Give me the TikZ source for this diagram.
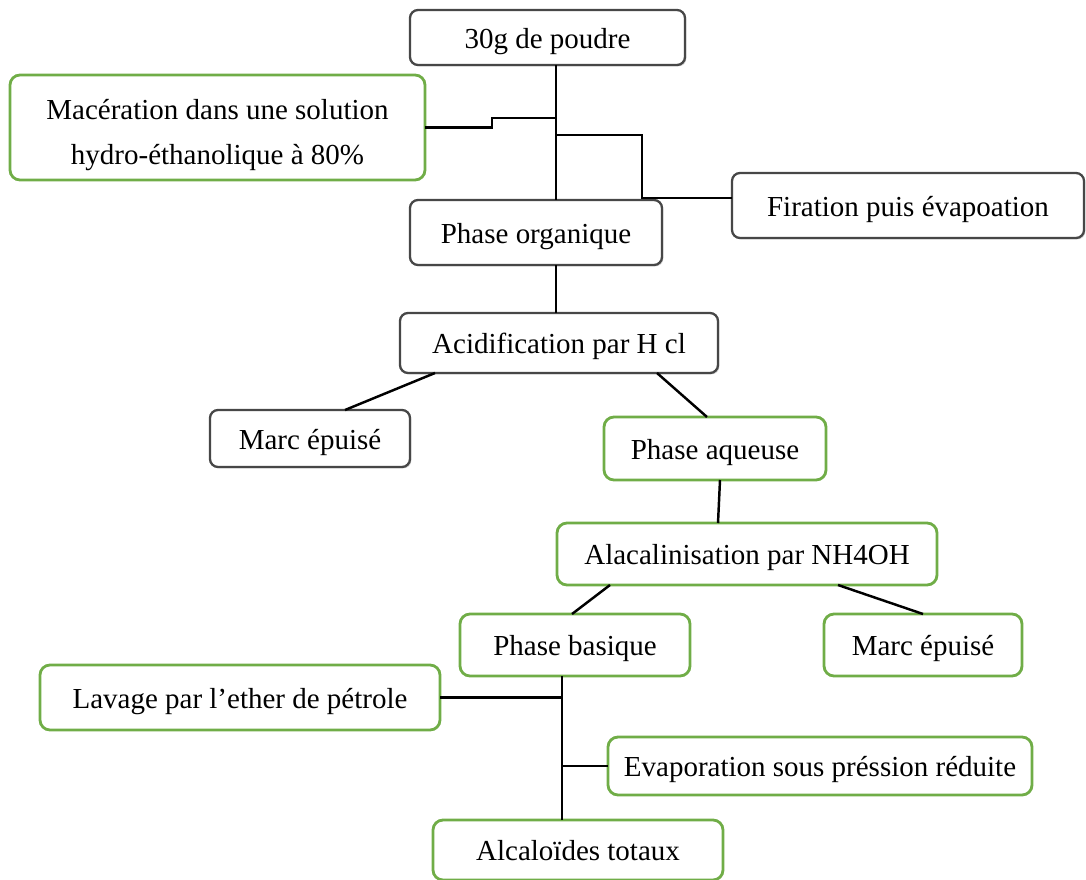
\documentclass[tikz,border=0pt]{standalone}
\usepackage{fontspec}
\setmainfont{Liberation Serif}
\usepackage{tikz}
\usetikzlibrary{shadows}
\definecolor{boxgreen}{RGB}{112,173,71}

\begin{document}
\begin{tikzpicture}[every node/.style={inner sep=0pt, outer sep=0pt, align=center, font=\fontsize{16.5}{25.6}\selectfont},
  oneline/.style={text height=15pt, text depth=2.6pt},
  greenbox/.style={draw=boxgreen, line width=1.6pt, rounded corners=0.2cm, fill=white},
  graybox/.style={draw=black!72, line width=1.3pt, rounded corners=0.16cm, fill=white, drop shadow={shadow xshift=0.8pt, shadow yshift=-0.8pt, opacity=0.35}},
  link/.style={line width=1.4pt, black}]
\useasboundingbox (0,0) rectangle (21.72,-17.58);

\node[graybox, oneline, minimum width=5.5cm, minimum height=1.1cm] (poudre) at (10.95,-0.75) {30g de poudre};
\node[greenbox, text height=45pt, text depth=3pt, minimum width=8.3cm, minimum height=2.1cm] (maceration) at (4.35,-2.55) {Macération dans une solution\\hydro-éthanolique à 80\%};
\node[graybox, oneline, minimum width=5.04cm, minimum height=1.3cm] (organique) at (10.72,-4.65) {Phase organique};
\node[graybox, oneline, minimum width=7.04cm, minimum height=1.3cm] (firation) at (18.16,-4.11) {Firation puis évapoation};
\node[graybox, oneline, minimum width=6.36cm, minimum height=1.2cm] (acide) at (11.18,-6.86) {Acidification par H cl};
\node[graybox, oneline, minimum width=4.0cm, minimum height=1.14cm] (marcA) at (6.2,-8.77) {Marc épuisé};
\node[greenbox, oneline, minimum width=4.44cm, minimum height=1.26cm] (aqueuse) at (14.3,-8.97) {Phase aqueuse};
\node[greenbox, oneline, minimum width=7.6cm, minimum height=1.24cm] (alcal) at (14.94,-11.08) {Alacalinisation par NH4OH};
\node[greenbox, oneline, minimum width=4.6cm, minimum height=1.24cm] (basique) at (11.5,-12.9) {Phase basique};
\node[greenbox, oneline, minimum width=3.96cm, minimum height=1.24cm] (marcB) at (18.46,-12.9) {Marc épuisé};
\node[greenbox, oneline, minimum width=8.0cm, minimum height=1.3cm] (lavage) at (4.8,-13.95) {Lavage par l’ether de pétrole};
\node[greenbox, oneline, minimum width=8.48cm, minimum height=1.16cm] (evap) at (16.4,-15.32) {Evaporation sous préssion réduite};
\node[greenbox, oneline, minimum width=5.8cm, minimum height=1.2cm] (alcaloides) at (11.56,-17.0) {Alcaloïdes totaux};

% upper part
\coordinate (t1) at ([xshift=0.17cm]poudre.south);
\draw[link] (t1) -- (t1 |- organique.north);
\draw[link] (maceration.east) -| (9.84,-2.36) -- (t1 |- 9.84,-2.36);
\draw[link] (t1 |- 0,-2.7) -| (12.84,-3.96) -- (firation.west |- 0,-3.96);
\draw[link] (t1 |- organique.south) -- (t1 |- acide.north);
\draw[link] ([xshift=-2.48cm]acide.south) -- ([xshift=0.7cm]marcA.north);
\draw[link] ([xshift=1.96cm]acide.south) -- ([xshift=-0.16cm]aqueuse.north);
\draw[link] ([xshift=0.1cm]aqueuse.south) -- ([xshift=-0.58cm]alcal.north);
\draw[link] ([xshift=-2.74cm]alcal.south) -- ([xshift=-0.06cm]basique.north);
\draw[link] ([xshift=1.82cm]alcal.south) -- (marcB.north);

% lower part
\coordinate (t2) at ([xshift=-0.26cm]basique.south);
\draw[link] (t2) -- (t2 |- alcaloides.north);
\draw[link] (lavage.east) -- (t2 |- lavage.east);
\draw[link] (t2 |- evap.west) -- (evap.west);
\end{tikzpicture}
\end{document}
